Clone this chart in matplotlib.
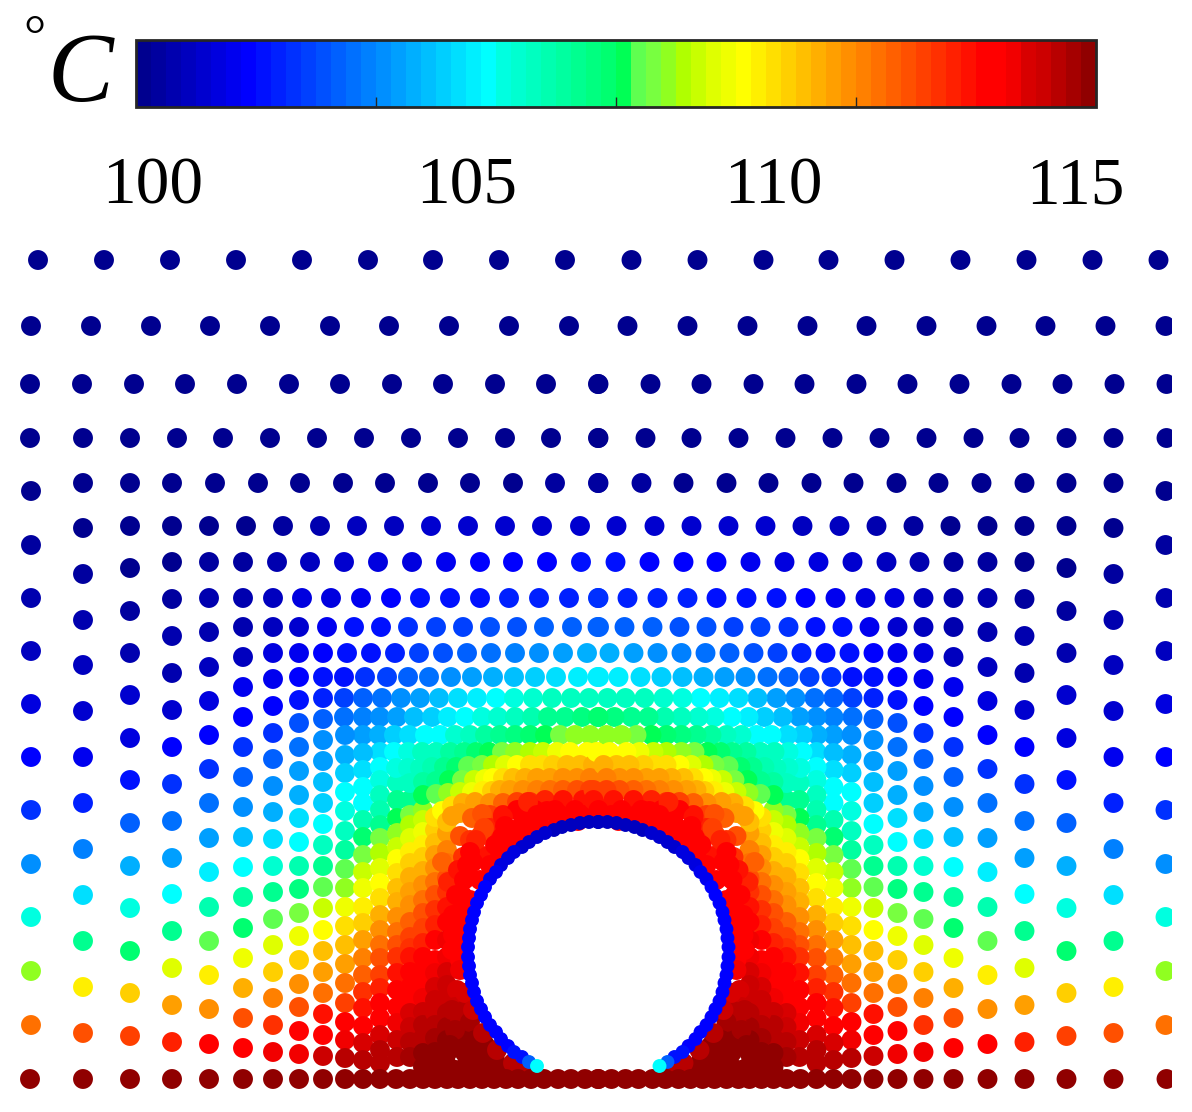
import numpy as np
import matplotlib
matplotlib.use("Agg")
import matplotlib.pyplot as plt
from matplotlib.colors import ListedColormap

plt.rcParams['font.family'] = ['Liberation Serif', 'DejaVu Serif']

# positions are read off the picture, temperature in deg C from the dot colour
# only the left half is listed, the field is mirrored about the cylinder axis
bar_colors = ['#00008F', '#00009F', '#0000AF', '#0000BF', '#0000CF', '#0000DF', '#0000EF', '#0000FF',
              '#0010FF', '#0020FF', '#0030FF', '#0040FF', '#0050FF', '#0060FF', '#0070FF', '#0080FF',
              '#008FFF', '#009FFF', '#00AFFF', '#00BFFF', '#00CFFF', '#00DFFF', '#00EFFF', '#00FFFF',
              '#00FFE0', '#00FFD0', '#00FFC0', '#00FFB0', '#00FFA0', '#00FF90', '#00FF80', '#00FF70',
              '#00FF55', '#5FFF50', '#78FF40', '#90FF20', '#B0FF00', '#C8FF00', '#DFFF00', '#EFFF00',
              '#FFFF00', '#FFEF00', '#FFDF00', '#FFCF00', '#FFBF00', '#FFAF00', '#FF9F00', '#FF8F00',
              '#FF8000', '#FF7000', '#FF6000', '#FF5000', '#FF4000', '#FF3000', '#FF2000', '#FF1000',
              '#FF0000', '#FF0000', '#F20000', '#D80000', '#CC0000', '#B80000', '#A50000', '#900000']
bar_ticks = [103.75, 107.5, 111.25]
bar_labels = ['100', '105', '110', '115']

# horizontal rows of the shells
row260_x = [38, 104, 170, 236, 302, 368, 433, 499, 565]
row260_t = [100, 100, 100, 100, 100, 100, 100, 100, 100]
row326_x = [31, 91, 151, 210, 270, 330, 389, 449, 509, 569]
row326_t = [100, 100, 100, 100, 100, 100, 100, 100, 100, 100]
row384_x = [30, 82, 134, 185, 237, 289, 340, 392, 443, 495, 546, 598]
row384_t = [100, 100, 100, 100, 100, 100, 100, 100, 100, 100, 100, 100]
row438_x = [30, 83, 130, 177, 223, 270, 317, 364, 411, 458, 505, 551, 598]
row438_t = [100, 100, 100, 100, 100, 100, 100, 100, 100, 100, 100, 100, 100]
row483_x = [83, 130, 172, 215, 258, 300, 343, 385, 428, 470, 513, 555, 598]
row483_t = [100, 100, 100, 100, 100, 100, 100, 100.1, 100.1, 100.2, 100.2, 100.3, 100.3]
row526_x = [130, 172, 209, 246, 283, 320, 357, 394, 431, 468, 505, 542, 580]
row526_t = [100, 100, 100.1, 100.2, 100.4, 100.6, 100.8, 100.9, 101, 101, 101.1, 101.1, 101.1]
row562_x = [172, 209, 243, 277, 310, 344, 378, 412, 446, 480, 513, 547, 581]
row562_t = [100.2, 100.3, 100.4, 100.6, 100.8, 101, 101.2, 101.4, 101.6, 101.7, 101.8, 101.8, 101.9]
row598_x = [209, 243, 273, 302, 331, 361, 391, 420, 450, 480, 509, 539, 569, 598]
row598_t = [100.5, 100.7, 100.9, 101.2, 101.4, 101.6, 101.8, 101.9, 102, 102.1, 102.2, 102.3, 102.3, 102.4]
row627_x = [243, 273, 299, 327, 354, 381, 408, 436, 463, 490, 517, 544, 572, 599]
row627_t = [100.7, 100.9, 101, 101.6, 101.9, 102.1, 102.4, 102.6, 102.8, 102.9, 103, 103.1, 103.1, 103.2]
row653_x = [273, 299, 323, 347, 371, 395, 419, 443, 467, 491, 515, 539, 563, 587]
row653_t = [101.3, 101.6, 101.8, 101.9, 102.1, 102.3, 102.6, 102.9, 103.1, 103.4, 103.6, 103.9, 104.1, 104.3]
row677_x = [299, 323, 344, 365, 387, 408, 429, 451, 472, 493, 514, 535, 556, 578, 599]
row677_t = [101.8, 101.9, 102.1, 102.4, 102.6, 103.1, 103.4, 103.8, 104.1, 104.3, 104.6, 104.8, 105, 105.3, 105.3]
row698_x = [323, 344, 363, 382, 401, 420, 439, 458, 477, 496, 514, 533, 552, 571, 589]
row698_t = [102.3, 102.8, 103.2, 103.5, 103.9, 104.1, 104.6, 105, 105.2, 105.6, 105.8, 106, 106.2, 106.3, 106.3]
row717_x = [344, 363, 380, 397, 414, 432, 448, 465, 482, 498, 515, 532, 548, 565, 582, 598]
row717_t = [103.4, 103.6, 103.9, 104.1, 104.6, 104.8, 105.2, 105.5, 105.8, 106, 106.3, 106.5, 106.8, 107, 107.2, 107.3]
row735_x = [363, 379, 394, 409, 425, 440, 455, 470, 485, 500, 515, 530, 545, 560, 575, 590]
row735_t = [104.1, 104.3, 104.8, 105, 105.6, 105.6, 106, 106.3, 106.6, 106.9, 107.1, 107.4, 107.6, 108.1, 108.3, 108.4]
row752_x = [380, 394, 408, 422, 436, 450, 464, 476, 489, 502, 515, 530, 543, 557, 570, 587, 600]
row752_t = [105, 105.5, 105.7, 106.1, 106.3, 106.6, 106.9, 107.3, 107.5, 108.1, 108.4, 108.6, 108.9, 109.2, 109.4, 109.5, 109.5]

# vertical columns of the shells
col31_y = [491, 545, 598, 651, 704, 757, 810, 864, 917, 971, 1025]
col31_t = [100, 100.4, 100.6, 100.9, 101.3, 101.8, 102.5, 103.9, 105.8, 108.4, 111.6]
col83_y = [528, 574, 620, 665, 711, 757, 803, 849, 895, 941, 987, 1033]
col83_t = [100, 100.3, 100.5, 100.8, 101.1, 101.5, 102.2, 103.6, 105, 106.9, 109.8, 112.1]
col130_y = [568, 611, 653, 695, 738, 780, 823, 866, 908, 951, 993, 1036]
col130_t = [100.1, 100.3, 100.7, 101, 101.4, 102, 103.1, 104.3, 105.8, 107.3, 110.2, 112.3]
col172_y = [599, 636, 673, 710, 747, 784, 821, 858, 894, 931, 968, 1005, 1042]
col172_t = [100.3, 100.5, 100.6, 101, 101.8, 102.4, 103.4, 104.2, 105.6, 106.9, 109, 110.9, 112.8]
col209_y = [632, 667, 701, 735, 769, 803, 838, 872, 907, 941, 975, 1009, 1044]
col209_t = [100.6, 100.9, 101.3, 101.8, 102.4, 103.4, 104.1, 105.2, 106.4, 107.9, 109.8, 111.2, 113.4]
col243_y = [657, 687, 717, 747, 777, 807, 837, 867, 897, 928, 958, 988, 1018, 1048]
col243_t = [100.8, 101.5, 101.8, 102.5, 103.2, 103.8, 104.6, 105.6, 106.6, 107.4, 109.3, 110.7, 112.1, 113.5]
col273_y = [679, 706, 733, 759, 786, 812, 839, 866, 892, 919, 945, 972, 998, 1025, 1052]
col273_t = [101.6, 101.8, 102.5, 103.2, 103.8, 104.3, 105, 106, 106.9, 107.9, 109, 110.2, 111.3, 112.5, 113.7]
col299_y = [700, 723, 747, 771, 795, 818, 842, 866, 889, 913, 936, 960, 984, 1007, 1031, 1054]
col299_t = [102.1, 102.9, 103.4, 104.1, 104.3, 105, 105.6, 106.5, 107.2, 108.1, 109.3, 110.3, 111.1, 112.1, 113.4, 113.7]
col323_y = [719, 740, 761, 782, 803, 824, 845, 866, 887, 908, 930, 951, 972, 993, 1014, 1035, 1056]
col323_t = [103.2, 103.8, 104.1, 104.6, 104.9, 105.6, 106.3, 107, 107.9, 108.7, 109.5, 110.4, 111, 111.7, 112.9, 113.4, 114.2]
col345_y = [735, 755, 773, 792, 811, 831, 850, 869, 888, 907, 926, 945, 964, 983, 1003, 1022, 1040, 1058]
col345_t = [103.9, 104.3, 104.8, 105.4, 105.8, 106.3, 106.7, 107.9, 108.4, 109.2, 109.9, 110.5, 111, 111.6, 112.3, 113.4, 113.7, 114.4]
col363_y = [753, 770, 787, 803, 820, 837, 855, 872, 888, 907, 923, 940, 958, 975, 992, 1008, 1026, 1043, 1060]
col363_t = [104.6, 105, 105.4, 105.6, 106.5, 107.3, 108, 108.7, 109.3, 109.8, 110.3, 110.8, 111.4, 111.9, 112.5, 113, 113.5, 114, 114.5]
col380_y = [767, 780, 795, 810, 825, 838, 853, 868, 883, 898, 915, 930, 945, 958, 975, 988, 1003, 1018, 1035, 1050, 1063]
col380_t = [105.4, 105.7, 106.1, 106.4, 106.9, 108, 108.6, 109, 109.5, 110, 110.7, 111.1, 111.6, 112, 112.4, 112.8, 113.4, 113.5, 113.9, 114.3, 114.5]
col397_y = [783, 800, 818, 833, 847, 859, 873, 888, 902, 917, 932, 945, 957, 973, 990, 1007, 1023, 1040, 1057]
col397_t = [106.3, 106.8, 107.5, 108.3, 108.8, 109.5, 109.9, 110.4, 110.7, 111.2, 111.6, 112.1, 112.6, 112.9, 113.4, 113.5, 113.7, 114.2, 114.5]
col410_y = [800, 815, 825, 838, 852, 863, 877, 892, 905, 922, 937, 948, 957, 972, 987, 1000, 1013, 1027, 1042, 1057]
col410_t = [106.9, 108, 108.6, 109.1, 109.8, 110.2, 110.6, 110.9, 111.2, 111.8, 112.3, 112.6, 113, 113.4, 113.5, 113.5, 113.9, 114.2, 114.4, 114.6]
col423_y = [810, 820, 832, 845, 857, 871, 885, 900, 913, 928, 943, 957, 970, 983, 998, 1012, 1025, 1038, 1053, 1067]
col423_t = [108.4, 108.8, 109.2, 109.7, 110.3, 110.7, 111.1, 111.6, 112, 112.3, 112.8, 113.4, 113.5, 113.5, 113.7, 114.1, 114.3, 114.4, 114.8, 114.9]
col435_y = [830, 843, 855, 868, 882, 895, 910, 925, 940, 960, 973, 987, 1000, 1013, 1025, 1038, 1052, 1067]
col435_t = [110.2, 110.5, 110.9, 111.2, 111.5, 112.1, 112.5, 112.8, 113.3, 113.5, 113.7, 113.9, 114.1, 114.2, 114.4, 114.6, 114.8, 115]
col447_y = [833, 850, 863, 878, 892, 907, 922, 940, 957, 972, 985, 1000, 1013, 1027, 1040, 1053, 1067]
col447_t = [110.9, 111.3, 111.7, 112.1, 112.6, 112.9, 113.2, 113.7, 113.6, 113.9, 114.1, 114.2, 114.4, 114.6, 114.8, 115, 115]

# arched rows close to the cylinder, the y changes along them
arc396_x = [396, 408, 420, 432, 444, 456, 468, 482, 493, 505, 517, 530, 542, 553, 567, 580, 593]
arc396_y = [768, 768, 768, 767, 767, 767, 766, 765, 765, 765, 765, 765, 765, 765, 765, 765, 765]
arc396_t = [105.7, 106, 106.2, 106.5, 106.8, 107.3, 107.9, 108.2, 108.6, 109, 109.5, 110, 110, 110.2, 110.4, 110.5, 110.7]
arc410_x = [410, 423, 436, 449, 462, 474, 485, 493, 503, 513, 525, 537, 550, 563, 577, 590]
arc410_y = [783, 782, 781, 780, 780, 780, 779, 778, 778, 778, 778, 778, 778, 778, 778, 778]
arc410_t = [106.3, 106.6, 107, 107.5, 108.2, 108.7, 109.2, 109.5, 110, 110.4, 110.7, 110.9, 110.9, 111.1, 111.2, 111.3]
arc423_x = [423, 436, 448, 460, 472, 483, 492, 500, 510, 523, 537, 550, 563, 577, 590, 603]
arc423_y = [795, 794, 793, 792, 792, 791, 791, 790, 790, 790, 790, 790, 790, 790, 790, 790]
arc423_t = [107.5, 107.9, 108.4, 108.9, 109.3, 109.8, 110.3, 110.6, 111, 111.2, 111.4, 111.6, 111.8, 112.1, 112.2, 112.3]
arc435_x = [435, 442, 452, 463, 475, 490, 503, 517, 530, 545, 563, 583, 603]
arc435_y = [817, 811, 806, 803, 802, 803, 803, 802, 802, 800, 800, 800, 800]
arc435_t = [109.9, 109.5, 109.9, 110.7, 110.9, 111.1, 111.8, 112.2, 112.5, 112.8, 112.9, 113.1, 113.1]
arc447_x = [447, 452, 460, 472, 490, 503, 517, 535, 555, 575, 598]
arc447_y = [822, 816, 813, 818, 815, 815, 810, 810, 810, 810, 810]
arc447_t = [110.5, 110.8, 111, 111.8, 112.3, 113, 113.4, 113.4, 113.5, 113.5, 113.5]
corner_x = [482, 460, 442, 470, 490, 528, 503, 481, 463, 448, 458, 456, 453, 453, 452,
            547, 523, 502, 483, 468, 473, 495, 515, 505, 537, 560, 585]
corner_y = [814, 836, 862, 840, 828, 802, 817, 835, 857, 882, 870, 895, 915, 935, 950,
            811, 822, 837, 856, 877, 862, 845, 830, 826, 815, 815, 815]
corner_t = [112, 112, 111.9, 112.6, 112.8, 112.8, 113, 112.3, 112.5, 112.8, 113.1, 113.3, 113.3, 113.5, 113.5,
            113.4, 113.4, 113.2, 113, 113.3, 113.3, 113.4, 113.4, 113.3, 113.5, 113.5, 113.5]
arc458_x = [484, 476, 470, 467, 464, 462, 461, 460, 460, 460, 457, 455, 460, 465, 465, 465]
arc458_y = [828, 840, 852, 865, 880, 895, 910, 925, 940, 960, 990, 1007, 1022, 1038, 1053, 1067]
arc458_t = [112.3, 112.8, 113.3, 113.4, 113.4, 113.4, 113.4, 113.4, 113.5, 113.5, 114, 114.2, 114.5, 115, 115, 115]
dark_x = [478, 490, 505, 485, 470, 450, 452, 465, 470, 455, 475, 450, 465, 485, 495, 510, 475, 490, 525, 445, 455]
dark_y = [1052, 1065, 1070, 1045, 1067, 1068, 1010, 1010, 1022, 1030, 1040, 1045, 1050, 1052, 1060, 1072, 1065, 1070, 1075, 1060, 1070]
dark_t = [115, 115, 115, 115, 115, 115, 114.3, 114.4, 114.6, 114.7, 115, 115, 115, 115, 115, 115, 115, 115, 115, 115, 115]
band_x = [578, 558, 540, 525, 512, 500, 490, 480, 470, 463, 460, 465, 473, 483, 497, 513, 523]
band_y = [821, 822, 826, 832, 841, 852, 865, 880, 900, 920, 970, 993, 1010, 1033, 1050, 1063, 1067]
band_t = [113.5, 113.5, 113.5, 113.4, 113.4, 113.4, 113.4, 113.4, 113.4, 113.5, 113.8, 114, 114.2, 114.3, 114.3, 114.4, 114.5]

# row along the heated wall
bottom_x = [30, 83, 130, 172, 209, 243, 273, 299, 323, 345, 363, 380, 396, 410, 423, 435, 447, 458,
            470, 482, 494, 506, 518, 531, 544, 558, 571, 585, 598]
bottom_t = [115, 115, 115, 115, 115, 115, 115, 115, 115, 115, 115, 115, 115, 115, 115, 115, 115, 115,
            115, 115, 115, 115, 115, 115, 115, 115, 115, 115, 115]

# cylinder wall
ring_x = [598, 589, 580, 571, 562, 554, 545, 537, 529, 522, 514, 508, 501, 496, 490, 485, 481, 477, 474, 472,
          470, 469, 468, 468, 469, 470, 472, 474, 477, 481, 485, 490, 496, 501, 508, 514, 522, 529, 537]
ring_y = [822, 822, 823, 825, 827, 830, 833, 837, 842, 847, 852, 858, 865, 872, 879, 887, 895, 903, 912, 920,
          929, 938, 947, 957, 966, 975, 983, 992, 1001, 1009, 1017, 1025, 1032, 1039, 1046, 1052, 1057, 1062, 1066]
ring_t = [100.9, 100.9, 100.9, 100.9, 100.9, 100.9, 101, 101, 101, 101.1, 101.2, 101.3, 101.4, 101.5, 101.6, 101.7, 101.8, 101.8, 101.8, 101.8,
          101.8, 101.8, 101.8, 101.8, 101.8, 101.8, 101.8, 101.8, 101.8, 101.8, 101.8, 101.8, 101.8, 101.8, 101.8, 101.9, 102, 103.2, 105.6]

rows = [(260, row260_x, row260_t), (326, row326_x, row326_t), (384, row384_x, row384_t),
        (438, row438_x, row438_t), (483, row483_x, row483_t), (526, row526_x, row526_t),
        (562, row562_x, row562_t), (598, row598_x, row598_t), (627, row627_x, row627_t),
        (653, row653_x, row653_t), (677, row677_x, row677_t), (698, row698_x, row698_t),
        (717, row717_x, row717_t), (735, row735_x, row735_t), (752, row752_x, row752_t)]
cols = [(31, col31_y, col31_t), (83, col83_y, col83_t), (130, col130_y, col130_t),
        (172, col172_y, col172_t), (209, col209_y, col209_t), (243, col243_y, col243_t),
        (273, col273_y, col273_t), (299, col299_y, col299_t), (323, col323_y, col323_t),
        (345, col345_y, col345_t), (363, col363_y, col363_t), (380, col380_y, col380_t)]
inner = [(397, col397_y, col397_t, arc396_x, arc396_y, arc396_t),
         (410, col410_y, col410_t, arc410_x, arc410_y, arc410_t),
         (423, col423_y, col423_t, arc423_x, arc423_y, arc423_t),
         (435, col435_y, col435_t, arc435_x, arc435_y, arc435_t),
         (447, col447_y, col447_t, arc447_x, arc447_y, arc447_t)]

xs, ys, ts = [], [], []
for y, x, t in rows:
    xs += x
    ys += [y] * len(x)
    ts += t
for x, y, t in cols:
    xs += [x] * len(y)
    ys += y
    ts += t
for cx, cy, ct, ax_, ay_, at_ in inner:
    xs += [cx] * len(cy) + ax_
    ys += cy + ay_
    ts += ct + at_
for x, y, t in [(corner_x, corner_y, corner_t), (arc458_x, arc458_y, arc458_t),
                (dark_x, dark_y, dark_t), (band_x, band_y, band_t)]:
    xs += x
    ys += y
    ts += t
xs += bottom_x
ys += [1079] * len(bottom_x)
ts += bottom_t

axis_x = 1196.5
cmap = ListedColormap(bar_colors)

fig = plt.figure(figsize=(11.92, 11.12), dpi=100)
ax = fig.add_axes([0, 0, 1172 / 1192, 1])
xs, ys, ts = np.array(xs), np.array(ys), np.array(ts)
sc = ax.scatter(np.r_[xs, axis_x - xs], np.r_[ys, ys], c=np.r_[ts, ts], s=205, cmap=cmap,
                vmin=100, vmax=115, linewidths=0)
rx, ry, rt = np.array(ring_x), np.array(ring_y), np.array(ring_t)
ax.scatter(np.r_[rx, axis_x - rx], np.r_[ry, ry], c=np.r_[rt, rt], s=100, cmap=cmap,
           vmin=100, vmax=115, linewidths=0)
ax.set_xlim(0, 1172)
ax.set_ylim(1112, 0)
ax.axis('off')

cax = fig.add_axes([136 / 1192, 1 - 107 / 1112, 960 / 1192, 67 / 1112])
cb = fig.colorbar(sc, cax=cax, orientation='horizontal', ticks=bar_ticks)
cb.outline.set_linewidth(2)
cb.outline.set_edgecolor('#262626')
cax.tick_params(direction='in', length=7, width=1, color='#262626', labelbottom=False)
cax.minorticks_off()

for label, x in zip(bar_labels, [153, 467, 773, 1075]):
    ax.text(x, 204, label, fontsize=48.5, ha='center', va='baseline')
ax.text(80, 101, 'C', fontsize=71, style='italic', ha='center', va='baseline')
ax.text(35, 54, '°', fontsize=40, ha='center', va='baseline')

fig.savefig('out.png', dpi=100)
